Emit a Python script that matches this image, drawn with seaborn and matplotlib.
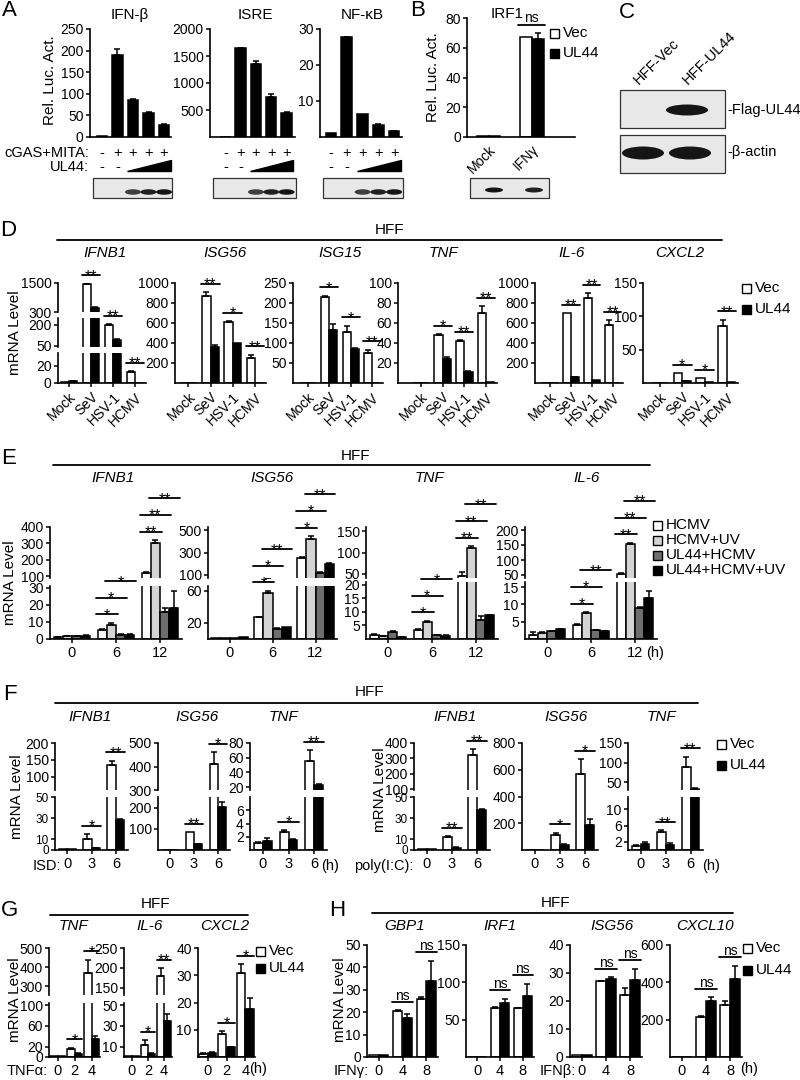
import numpy as np
import pandas as pd
import matplotlib
matplotlib.use("Agg")
import matplotlib.pyplot as plt
import matplotlib.transforms as mtrans
from matplotlib.patches import Rectangle, Ellipse, Polygon
import seaborn as sns

# ---------------- data ----------------
# A: reporter assays, lanes = mock, cGAS+MITA, + increasing UL44
a_lanes = ["1", "2", "3", "4", "5"]
a_ifnb = [2, 190, 85, 55, 27]
a_ifnb_err = [0, 13, 4, 2, 2]
a_isre = [5, 1640, 1360, 750, 450]
a_isre_err = [0, 10, 50, 40, 10]
a_nfkb = [1.2, 27.7, 6.5, 3.3, 1.6]
a_nfkb_err = [0, 0.2, 0, 0.3, 0.2]
a_cgas = ["-", "+", "+", "+", "+"]

# B: IRF1 reporter
b_cats = ["Mock", "IFNγ"]
b_vec = [0.8, 67]
b_ul44 = [0.8, 66]
b_vec_err = [0, 0]
b_ul44_err = [0, 4]

# D: virus infection, [Vec, UL44]
d_cats = ["Mock", "SeV", "HSV-1", "HCMV"]
d_ifnb1 = [[1, 1450, 200, 13], [2, 480, 90, 0.5]]
d_ifnb1_err = [[0, 30, 5, 1], [0.5, 40, 5, 0]]
d_isg56 = [[1, 870, 610, 250], [1, 360, 400, 3]]
d_isg56_err = [[0, 40, 10, 35], [0, 20, 0, 0]]
d_isg15 = [[1, 215, 128, 75], [1, 133, 85, 1]]
d_isg15_err = [[0, 3, 15, 8], [0, 15, 3, 0]]
d_tnf = [[0.5, 48, 42, 70], [0.5, 24, 11, 1]]
d_tnf_err = [[0, 1, 1, 7], [0, 2, 1, 0]]
d_il6 = [[1, 700, 850, 580], [1, 60, 30, 1]]
d_il6_err = [[0, 0, 50, 50], [0, 5, 0, 0]]
d_cxcl2 = [[0.5, 15, 7, 85], [0.5, 3, 1, 1]]
d_cxcl2_err = [[0, 0, 0, 10], [0, 0.5, 0, 0]]
d_sig = {"IFNB1": ["**", "**", "**"], "ISG56": ["**", "*", "**"], "ISG15": ["*", "*", "**"],
         "TNF": ["*", "**", "**"], "IL-6": ["**", "**", "**"], "CXCL2": ["*", "*", "**"]}

# E: HCMV / UV-HCMV time course, [HCMV, HCMV+UV, UL44+HCMV, UL44+HCMV+UV]
e_groups = ["HCMV", "HCMV+UV", "UL44+HCMV", "UL44+HCMV+UV"]
e_cats = ["0", "6", "12"]
e_ifnb1 = [[1, 5, 120], [1.5, 8, 300], [1.5, 2.5, 16], [2, 2.5, 18]]
e_ifnb1_err = [[0.2, 1, 5], [0.2, 1.5, 20], [0.2, 0.2, 2], [0.2, 0.2, 10]]
e_isg56 = [[1, 27, 250], [1, 57, 420], [1, 13, 115], [2, 15, 200]]
e_isg56_err = [[0, 1, 10], [0, 3, 30], [0, 1, 5], [0, 0, 5]]
e_tnf = [[1.5, 3.3, 45], [1, 6.4, 110], [2.5, 1.5, 7], [0.8, 1.2, 8.7]]
e_tnf_err = [[0.3, 0.3, 10], [0.2, 0.3, 5], [0.5, 0.1, 1.5], [0.1, 0.1, 0.2]]
e_il6 = [[1.2, 4, 55], [1.8, 7.5, 155], [2.3, 2.5, 9], [2.8, 2.3, 12]]
e_il6_err = [[0.8, 0.2, 2], [0.1, 0.3, 3], [0.1, 0.1, 0.3], [0.2, 0.1, 2]]
e_sig6 = {"IFNB1": ["*", "*", "*"], "ISG56": ["*", "*", "**"], "TNF": ["*", "*", "*"], "IL-6": ["*", "*", "**"]}
e_sig12 = {"IFNB1": ["**", "**", "**"], "ISG56": ["*", "*", "**"], "TNF": ["**", "**", "**"], "IL-6": ["**", "**", "**"]}

# F: ISD / poly(I:C) transfection, [Vec, UL44]
f_cats = ["0", "3", "6"]
f_isd_ifnb1 = [[1, 10, 135], [0.5, 1.5, 28]]
f_isd_ifnb1_err = [[0, 5, 12], [0, 0.3, 1]]
f_isd_isg56 = [[0.5, 85, 410], [0.5, 28, 205]]
f_isd_isg56_err = [[0, 0, 50], [0, 2, 20]]
f_isd_tnf = [[1, 2.7, 55], [1.3, 1.5, 23]]
f_isd_tnf_err = [[0.2, 0.3, 15], [0.5, 0.2, 1]]
f_pic_ifnb1 = [[1, 12, 320], [0.5, 2, 38]]
f_pic_ifnb1_err = [[0, 1, 40], [0, 0.5, 1]]
f_pic_isg56 = [[0.5, 110, 570], [0.5, 40, 190]]
f_pic_isg56_err = [[0, 20, 110], [0, 5, 40]]
f_pic_tnf = [[1, 4.5, 90], [1.5, 1.2, 32]]
f_pic_tnf_err = [[0.3, 0.3, 25], [0.5, 0.5, 3]]
f_isd_sig = [["*", "**"], ["**", "*"], ["*", "**"]]
f_pic_sig = [["**", "**"], ["*", "*"], ["**", "**"]]

# G: TNFα stimulation
g_cats = ["0", "2", "4"]
g_tnf = [[1, 15, 370], [1.5, 5, 35]]
g_tnf_err = [[0, 3, 70], [0, 2, 5]]
g_il6 = [[0.5, 12, 180], [0.5, 3, 35]]
g_il6_err = [[0, 4, 20], [0, 1, 6]]
g_cxcl2 = [[1, 8.5, 31], [1.5, 3.5, 17.5]]
g_cxcl2_err = [[0.3, 1, 3], [0.3, 0.3, 4]]
g_sig = [["*", "*"], ["*", "**"], ["*", "*"]]

# H: IFN stimulation
h_cats = ["0", "4", "8"]
h_gbp1 = [[0.8, 20.5, 26], [0.8, 17.5, 34]]
h_gbp1_err = [[0, 0.5, 1], [0, 1.5, 9]]
h_irf1 = [[0.5, 65, 65], [0.5, 72, 82]]
h_irf1_err = [[0, 2, 1], [0, 6, 16]]
h_isg56 = [[0.8, 27, 22], [0.8, 28, 27.5]]
h_isg56_err = [[0, 0.3, 2.5], [0, 0.5, 4]]
h_cxcl10 = [[1, 215, 280], [1, 300, 420]]
h_cxcl10_err = [[0, 5, 20], [0, 20, 70]]

VU = ["white", "black"]
E_COLORS = ["white", "#d4d4d4", "#6e6e6e", "black"]

# ---------------- style ----------------
sns.set_theme(style="ticks", rc={
    "axes.linewidth": 1.2, "axes.edgecolor": "black", "axes.facecolor": "none",
    "xtick.major.width": 1.1, "ytick.major.width": 1.1,
    "xtick.major.size": 3, "ytick.major.size": 3,
    "xtick.labelsize": 10, "ytick.labelsize": 10,
    "xtick.color": "black", "ytick.color": "black", "text.color": "black",
    "xtick.major.pad": 2, "ytick.major.pad": 1.5,
})
plt.rcParams["font.family"] = ["Liberation Sans", "DejaVu Sans"]

W, H = 800, 1080
fig = plt.figure(figsize=(8, 10.8), dpi=100)
deco = fig.add_axes([0, 0, 1, 1], zorder=10)
deco.set_xlim(0, W)
deco.set_ylim(H, 0)
deco.axis("off")


def rect(l, t, r, b):
    return [l / W, 1 - b / H, (r - l) / W, (b - t) / H]


def bar_panel(l, r, segs, cats, series, errs, colors, width=0.8, xlim=None):
    n = len(series)
    names = [f"g{j}" for j in range(n)]
    rows = [(c, names[j], v) for j in range(n) for c, v in zip(cats, series[j])]
    df = pd.DataFrame(rows, columns=["cond", "grp", "val"])
    axes = []
    for k, (t, b, lo, hi, ticks) in enumerate(segs):
        ax = fig.add_axes(rect(l, t, r, b))
        sns.barplot(data=df, x="cond", y="val", hue="grp", order=cats, hue_order=names,
                    palette=colors, edgecolor="black", linewidth=1.1, width=width,
                    saturation=1, errorbar=None, legend=False, ax=ax)
        for j in range(n):
            xs = np.arange(len(cats)) - width / 2 + width / n * (j + 0.5)
            e = np.asarray(errs[j], float)
            m = e > 0
            if m.any():
                ax.errorbar(xs[m], np.asarray(series[j], float)[m],
                            yerr=[np.zeros(m.sum()), e[m]], fmt="none", ecolor="black",
                            elinewidth=1.1, capsize=2.5, capthick=1.1)
        ax.set_yticks(ticks)
        ax.set_ylim(lo, hi)
        ax.set_xlim(*(xlim or (-0.5, len(cats) - 0.5)))
        ax.set_xlabel("")
        ax.set_ylabel("")
        sns.despine(ax=ax)
        ax.set_xticks(range(len(cats)))
        ax.set_xticklabels([])
        if k < len(segs) - 1:
            ax.spines["bottom"].set_visible(False)
            ax.tick_params(axis="x", bottom=False)
        axes.append(ax)
    return dict(axes=axes, segs=segs, series=series, errs=errs, width=width, n=n)


def sig(p, i, j1, j2, label, lvl=0, step=12):
    top = max(p["series"][j][i] + p["errs"][j][i] for j in range(p["n"]))
    ax, y = p["axes"][0], p["segs"][0][3]
    for a, s in zip(p["axes"][::-1], p["segs"][::-1]):
        if top <= s[3]:
            ax, y = a, top
            break
    w, n = p["width"], p["n"]
    x1 = i - w / 2 + w / n * j1 - 0.04
    x2 = i - w / 2 + w / n * (j2 + 1) + 0.04
    off = 6 + step * lvl
    tr = mtrans.offset_copy(ax.transData, fig=fig, y=off, units="points")
    ax.plot([x1, x2], [y, y], color="black", lw=1.3, transform=tr, clip_on=False)
    if "*" in label:
        fs, toff = 11.5, off - 4.0
    else:
        fs, toff = 10, off + 1.5
    ax.text((x1 + x2) / 2, y, label, ha="center", va="baseline", fontsize=fs,
            transform=mtrans.offset_copy(ax.transData, fig=fig, y=toff, units="points"))


def xlabels(p, labels, rot=0):
    ax = p["axes"][-1]
    if rot:
        ax.set_xticklabels(labels, rotation=rot, ha="right", rotation_mode="anchor", fontsize=10)
    else:
        ax.set_xticklabels(labels, fontsize=10.5)


def legend(x, y, labels, colors, dy=20, fs=11):
    for k, (lab, c) in enumerate(zip(labels, colors)):
        deco.add_patch(Rectangle((x, y + k * dy - 4.5), 9, 9, facecolor=c, edgecolor="black", lw=1))
        deco.text(x + 13, y + k * dy, lab, va="center", ha="left", fontsize=fs)


def header(x0, x1, y, tx, ty):
    deco.plot([x0, x1], [y, y], color="black", lw=1.3)
    deco.text(tx, ty, "HFF", ha="center", va="center", fontsize=11)


def titles(items, y):
    for name, x in items:
        deco.text(x, y, name, ha="center", va="center", fontsize=11, style="italic")


def ylab(x, y, s):
    deco.text(x, y, s, rotation=90, ha="center", va="center", fontsize=11)


def blot(x0, y0, x1, y1, bands, bw, bh, yc):
    deco.add_patch(Rectangle((x0, y0), x1 - x0, y1 - y0, facecolor="#e8e8e8", edgecolor="#333333", lw=0.9))
    for bx, a in bands:
        deco.add_patch(Ellipse((bx, yc), bw, bh, facecolor="#151515", edgecolor="none", alpha=a))


# panel letters
for s, (x, y) in {"A": (9, 11), "B": (418, 11), "C": (627, 12), "D": (8, 231), "E": (9, 458),
                  "F": (10, 694), "G": (9, 910), "H": (337, 910)}.items():
    deco.text(x, y, s, ha="center", va="center", fontsize=16)

# ---------------- A ----------------
a_specs = [("IFN-β", 90, 171, (-0.77, 4.45), a_ifnb, a_ifnb_err, 250, [0, 50, 100, 150, 200, 250], 130),
           ("ISRE", 210, 295, (-1.0, 4.55), a_isre, a_isre_err, 2000, [500, 1000, 1500, 2000], 255),
           ("NF-κB", 320, 402, (-0.7, 4.5), a_nfkb, a_nfkb_err, 30, [10, 20, 30], 362)]
for k, (name, l, r, xl, v, e, top, ticks, tx) in enumerate(a_specs):
    p = bar_panel(l, r, [(29, 137, 0, top, ticks)], a_lanes, [v], [e], ["black"], width=0.68, xlim=xl)
    ax = p["axes"][0]
    ax.tick_params(axis="x", bottom=False)
    deco.text(tx, 15, name, ha="center", va="center", fontsize=11)
    bl = mtrans.blended_transform_factory(ax.transData, deco.transData)
    for i, s in enumerate(a_cgas):
        ax.text(i, 153, s, transform=bl, ha="center", va="center", fontsize=10.5, clip_on=False)
    for i in range(2):
        ax.text(i, 167, "-", transform=bl, ha="center", va="center", fontsize=10.5, clip_on=False)
    ax.add_patch(Polygon([(1.62, 171), (4.42, 171), (4.42, 160)], closed=True, transform=bl,
                         facecolor="black", edgecolor="black", clip_on=False))
    xs = [bl.transform((i, 0))[0] for i in (2, 3, 4)]
    blot(l + 3, 178, r + 1, 198, [(xs[0], 0.8), (xs[1], 0.95), (xs[2], 1.0)], 16, 5.5, 192)
deco.text(89, 153, "cGAS+MITA:", ha="right", va="center", fontsize=10.5)
deco.text(89, 167, "UL44:", ha="right", va="center", fontsize=10.5)
ylab(50, 80, "Rel. Luc. Act.")

# ---------------- B ----------------
pb = bar_panel(467, 575, [(18, 137, 0, 80, [0, 20, 40, 60, 80])], b_cats, [b_vec, b_ul44],
               [b_vec_err, b_ul44_err], VU, width=0.55, xlim=(-0.5, 2.0))
pb["axes"][0].tick_params(axis="x", bottom=False, pad=1)
xlabels(pb, b_cats, rot=45)
sig(pb, 1, 0, 1, "ns")
deco.text(507, 14, "IRF1", ha="center", va="center", fontsize=11)
ylab(433, 77, "Rel. Luc. Act.")
legend(550, 33, ["Vec", "UL44"], VU)
blot(470, 178, 549, 198, [(494, 1.0), (534, 0.95)], 18, 5, 190)

# ---------------- C ----------------
deco.text(641, 87, "HFF-Vec", rotation=45, ha="left", va="bottom", rotation_mode="anchor", fontsize=10.5)
deco.text(690, 87, "HFF-UL44", rotation=45, ha="left", va="bottom", rotation_mode="anchor", fontsize=10.5)
blot(620, 90, 725, 128, [(687, 1.0)], 42, 11, 110)
blot(620, 135, 725, 173, [(643, 1.0), (690, 1.0)], 42, 13, 153)
deco.text(727, 110, "-Flag-UL44", ha="left", va="center", fontsize=10.5)
deco.text(727, 152, "-β-actin", ha="left", va="center", fontsize=10.5)

# ---------------- D ----------------
header(57, 722, 240, 390, 230)
titles([("IFNB1", 105), ("ISG56", 225), ("ISG15", 340), ("TNF", 443), ("IL-6", 572), ("CXCL2", 680)], 253)
d_specs = [
    ("IFNB1", 58, 146, (-0.5, 3.5), d_ifnb1, d_ifnb1_err,
     [(283, 312, 300, 1500, [300, 1500]), (318, 347, 40, 250, [50, 200]), (353, 383, 0, 35, [0, 20])]),
    ("ISG56", 175, 266, (-0.6, 3.5), d_isg56, d_isg56_err, [(283, 383, 0, 1000, [200, 400, 600, 800, 1000])]),
    ("ISG15", 293, 383, (-0.68, 3.5), d_isg15, d_isg15_err, [(283, 383, 0, 250, [50, 100, 150, 200, 250])]),
    ("TNF", 398, 497, (-1.05, 3.5), d_tnf, d_tnf_err, [(283, 383, 0, 100, [20, 40, 60, 80, 100])]),
    ("IL-6", 535, 623, (-0.72, 3.5), d_il6, d_il6_err, [(283, 383, 0, 1000, [200, 400, 600, 800, 1000])]),
    ("CXCL2", 643, 738, (-0.76, 3.5), d_cxcl2, d_cxcl2_err, [(283, 383, 0, 150, [50, 100, 150])]),
]
for name, l, r, xl, v, e, segs in d_specs:
    p = bar_panel(l, r, segs, d_cats, v, e, VU, width=0.75, xlim=xl)
    xlabels(p, d_cats, rot=45)
    for i, s in enumerate(d_sig[name]):
        sig(p, i + 1, 0, 1, s)
ylab(15, 333, "mRNA Level")
legend(742, 288, ["Vec", "UL44"], VU, dy=21)

# ---------------- E ----------------
header(53, 650, 465, 355, 456)
titles([("IFNB1", 113), ("ISG56", 272), ("TNF", 430), ("IL-6", 587)], 478)
e_specs = [
    ("IFNB1", 50, 182, e_ifnb1, e_ifnb1_err,
     [(527, 578, 88, 400, [100, 200, 300, 400]), (586, 639, 0, 31, [0, 10, 20, 30])]),
    ("ISG56", 208, 337, e_isg56, e_isg56_err,
     [(527, 578, 70, 530, [100, 300, 500]), (586, 639, 0, 66, [20, 60])]),
    ("TNF", 366, 498, e_tnf, e_tnf_err,
     [(527, 578, 40, 160, [50, 100, 150]), (582, 639, 0, 21, [5, 10, 15, 20])]),
    ("IL-6", 525, 657, e_il6, e_il6_err,
     [(527, 578, 40, 210, [50, 100, 150, 200]), (582, 639, 0, 16.5, [5, 10, 15])]),
]
for name, l, r, v, e, segs in e_specs:
    p = bar_panel(l, r, segs, e_cats, v, e, E_COLORS, width=0.84)
    xlabels(p, e_cats)
    for i, sigs in ((1, e_sig6[name]), (2, e_sig12[name])):
        sig(p, i, 0, 1, sigs[0], lvl=0)
        sig(p, i, 0, 2, sigs[1], lvl=1)
        sig(p, i, 1, 3, sigs[2], lvl=2)
deco.text(655, 653, "(h)", ha="center", va="center", fontsize=10.5)
ylab(10, 583, "mRNA Level")
legend(653, 525, e_groups, E_COLORS, dy=15, fs=11)

# ---------------- F ----------------
header(55, 698, 703, 370, 692)
titles([("IFNB1", 90), ("ISG56", 197), ("TNF", 283), ("IFNB1", 455), ("ISG56", 566), ("TNF", 662)], 717)
f_specs = [
    (55, 128, f_isd_ifnb1, f_isd_ifnb1_err, f_isd_sig[0],
     [(743, 790, 60, 200, [100, 150, 200]), (797, 850, 0, 50, [0, 10, 30, 50])]),
    (158, 230, f_isd_isg56, f_isd_isg56_err, f_isd_sig[1],
     [(743, 790, 300, 500, [300, 400, 500]), (797, 850, 0, 250, [100, 200])]),
    (250, 327, f_isd_tnf, f_isd_tnf_err, f_isd_sig[2],
     [(743, 790, 16, 80, [20, 40, 60, 80]), (797, 850, 0, 8, [2, 4, 6])]),
    (414, 490, f_pic_ifnb1, f_pic_ifnb1_err, f_pic_sig[0],
     [(743, 790, 95, 400, [100, 200, 300, 400]), (797, 850, 0, 50, [0, 10, 30, 50])]),
    (522, 598, f_pic_isg56, f_pic_isg56_err, f_pic_sig[1],
     [(743, 850, 0, 800, [200, 400, 600, 800])]),
    (628, 703, f_pic_tnf, f_pic_tnf_err, f_pic_sig[2],
     [(743, 790, 30, 150, [50, 100, 150]), (797, 850, 0, 13, [2, 6, 10])]),
]
for k, (l, r, v, e, sigs, segs) in enumerate(f_specs):
    p = bar_panel(l, r, segs, f_cats, v, e, VU, width=0.7)
    xlabels(p, f_cats)
    if k in (0, 3):
        p["axes"][-1].tick_params(axis="y", labelsize=8.5)
    sig(p, 1, 0, 1, sigs[0])
    sig(p, 2, 0, 1, sigs[1])
deco.text(61, 866, "ISD:", ha="right", va="center", fontsize=10.5)
deco.text(330, 866, "(h)", ha="center", va="center", fontsize=10.5)
deco.text(413, 866, "poly(I:C):", ha="right", va="center", fontsize=10.5)
deco.text(711, 866, "(h)", ha="center", va="center", fontsize=10.5)
ylab(17, 797, "mRNA Level")
ylab(380, 790, "mRNA Level")
legend(717, 744, ["Vec", "UL44"], VU, dy=21)

# ---------------- G ----------------
header(50, 248, 915, 155, 904)
titles([("TNF", 73), ("IL-6", 150), ("CXCL2", 225)], 926)
g_specs = [
    (49, 100, g_tnf, g_tnf_err, g_sig[0],
     [(948, 995, 255, 500, [300, 400, 500]), (1003, 1057, 0, 104, [0, 20, 60, 100])]),
    (124, 172, g_il6, g_il6_err, g_sig[1],
     [(948, 995, 132, 250, [150, 200, 250]), (1003, 1057, 0, 52, [10, 30, 50])]),
    (198, 255, g_cxcl2, g_cxcl2_err, g_sig[2], [(948, 1057, 0, 40, [10, 20, 30, 40])]),
]
for l, r, v, e, sigs, segs in g_specs:
    p = bar_panel(l, r, segs, g_cats, v, e, VU, width=0.85)
    xlabels(p, g_cats)
    sig(p, 1, 0, 1, sigs[0])
    sig(p, 2, 0, 1, sigs[1])
deco.text(48, 1071, "TNFα:", ha="right", va="center", fontsize=10.5)
deco.text(258, 1069, "(h)", ha="center", va="center", fontsize=10.5)
ylab(15, 1000, "mRNA Level")
legend(256, 951, ["Vec", "UL44"], VU, dy=17)

# ---------------- H ----------------
header(372, 733, 913, 555, 903)
titles([("GBP1", 405), ("IRF1", 500), ("ISG56", 612), ("CXCL10", 705)], 926)
h_specs = [
    (367, 438, h_gbp1, h_gbp1_err, [(945, 1057, 0, 50, [0, 10, 20, 30, 40, 50])]),
    (466, 534, h_irf1, h_irf1_err, [(945, 1057, 0, 150, [50, 100, 150])]),
    (570, 642, h_isg56, h_isg56_err, [(945, 1057, 0, 40, [0, 10, 20, 30, 40])]),
    (670, 742, h_cxcl10, h_cxcl10_err, [(945, 1057, 0, 600, [200, 400, 600])]),
]
for l, r, v, e, segs in h_specs:
    p = bar_panel(l, r, segs, h_cats, v, e, VU, width=0.8)
    xlabels(p, h_cats)
    sig(p, 1, 0, 1, "ns")
    sig(p, 2, 0, 1, "ns")
deco.text(369, 1071, "IFNγ:", ha="right", va="center", fontsize=10.5)
deco.text(576, 1071, "IFNβ:", ha="right", va="center", fontsize=10.5)
deco.text(749, 1069, "(h)", ha="center", va="center", fontsize=10.5)
ylab(340, 1000, "mRNA Level")
legend(743, 948, ["Vec", "UL44"], VU, dy=22)

fig.savefig("out.png", dpi=100, facecolor="white")
